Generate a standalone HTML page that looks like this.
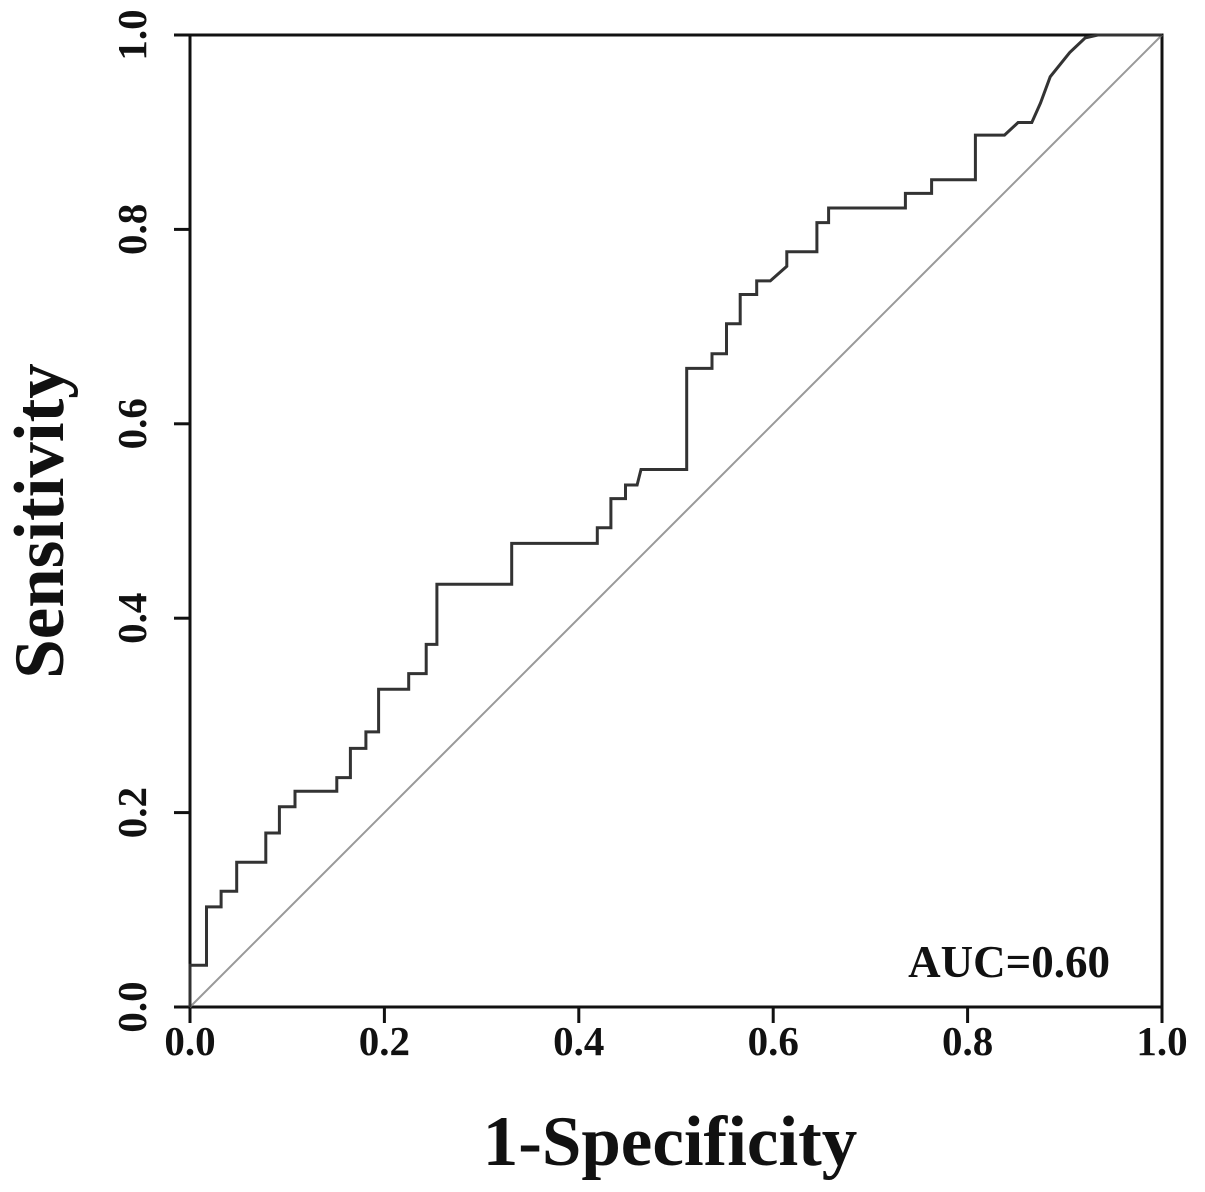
<!DOCTYPE html>
<html><head><meta charset="utf-8"><style>
html,body{margin:0;padding:0;background:#fff;}
svg{display:block;}
text{font-family:"Liberation Serif",serif;font-weight:bold;fill:#111;}
</style></head><body>
<svg id="chart" width="1205" height="1192" viewBox="0 0 1205 1192" xmlns="http://www.w3.org/2000/svg">
<g id="axes"></g>
<g id="marks"></g>
<text x="670" y="1165" font-size="71" text-anchor="middle">1-Specificity</text>
<text transform="translate(63,521) rotate(-90)" font-size="71" text-anchor="middle">Sensitivity</text>
<text x="1110" y="977" font-size="45" text-anchor="end">AUC=0.60</text>
</svg>
<script>
const xTicks = [0, 0.2, 0.4, 0.6, 0.8, 1.0];
const yTicks = [0, 0.2, 0.4, 0.6, 0.8, 1.0];
const tickLabels = ["0.0", "0.2", "0.4", "0.6", "0.8", "1.0"];
const fpr = [0,0,0.017,0.017,0.032,0.032,0.048,0.048,0.078,0.078,0.092,0.092,0.108,0.108,0.151,0.151,0.165,0.165,0.181,0.181,0.194,0.194,0.225,0.225,0.243,0.243,0.254,0.254,0.331,0.331,0.419,0.419,0.433,0.433,0.448,0.448,0.460,0.464,0.511,0.511,0.537,0.537,0.552,0.552,0.566,0.566,0.583,0.583,0.597,0.614,0.614,0.645,0.645,0.657,0.657,0.736,0.736,0.763,0.763,0.808,0.808,0.838,0.852,0.866,0.875,0.885,0.905,0.921,0.934,1];
const tpr = [0,0.043,0.043,0.103,0.103,0.119,0.119,0.149,0.149,0.179,0.179,0.206,0.206,0.222,0.222,0.236,0.236,0.266,0.266,0.283,0.283,0.327,0.327,0.343,0.343,0.373,0.373,0.435,0.435,0.477,0.477,0.493,0.493,0.523,0.523,0.537,0.537,0.553,0.553,0.657,0.657,0.672,0.672,0.703,0.703,0.733,0.733,0.747,0.747,0.762,0.777,0.777,0.807,0.807,0.822,0.822,0.837,0.837,0.851,0.851,0.897,0.897,0.91,0.91,0.93,0.957,0.982,0.997,1,1];
const X0=190, X1=1162, Y0=1007, Y1=35;
const sx = v => X0 + v*(X1-X0);
const sy = v => Y0 - v*(Y0-Y1);
const NS="http://www.w3.org/2000/svg";
function mk(tag, attrs, parent){const e=document.createElementNS(NS,tag);for(const k in attrs)e.setAttribute(k,attrs[k]);parent.appendChild(e);return e;}
const axes=document.getElementById('axes'), marks=document.getElementById('marks');
const frame = mk('rect',{x:X0,y:Y1,width:X1-X0,height:Y0-Y1,fill:'none',stroke:'#111','stroke-width':3},axes);


xTicks.forEach((t,i)=>{
  const l=mk('line',{x1:sx(t),x2:sx(t),y1:Y0,y2:Y0+16,stroke:'#111','stroke-width':3},axes);
  
  
  const tx=mk('text',{x:sx(t),y:1055,'font-size':41,'text-anchor':'middle'},axes);
  tx.textContent=tickLabels[i];
  
  
});
yTicks.forEach((t,i)=>{
  const l=mk('line',{x1:X0-16,x2:X0,y1:sy(t),y2:sy(t),stroke:'#111','stroke-width':3},axes);
  
  
  const tx=mk('text',{transform:`translate(146,${sy(t)}) rotate(-90)`,'font-size':41,'text-anchor':'middle'},axes);
  tx.textContent=tickLabels[i];
  
  
});
const diag=mk('line',{x1:sx(0),y1:sy(0),x2:sx(1),y2:sy(1),stroke:'#999','stroke-width':2},marks);


const d=fpr.map((v,i)=>(i?'L':'M')+sx(v).toFixed(1)+','+sy(tpr[i]).toFixed(1)).join(' ');
const roc=mk('path',{d:d,fill:'none',stroke:'#333','stroke-width':3,'stroke-linejoin':'miter'},marks);


</script>
</body></html>
